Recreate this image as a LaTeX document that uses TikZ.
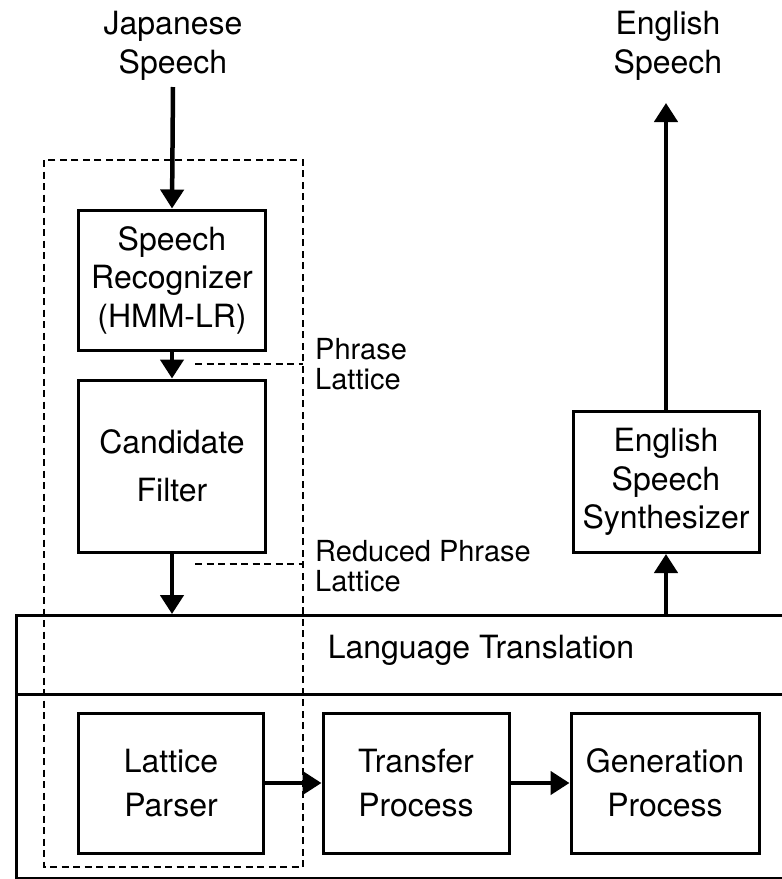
\documentclass[tikz,border=0pt]{standalone}
\usepackage{fontspec}
\setmainfont{TeX Gyre Heros}
\usetikzlibrary{arrows.meta}
\begin{document}
\begin{tikzpicture}[x=1pt,y=-1pt,
  txt/.style={font=\fontsize{32}{38.5}\selectfont, align=center, inner sep=0pt},
  lbl/.style={font=\fontsize{29}{30.5}\selectfont, align=left, inner sep=0pt, anchor=west},
  box/.style={draw, line width=3pt, txt},
  flow/.style={line width=4.5pt, -{Triangle[length=19pt,width=23pt]}},
  dsh/.style={line width=2.8pt, dash pattern=on 7pt off 4.5pt}
]
\useasboundingbox (0,0) rectangle (782,879);
% outer blocks
\node[draw, line width=3pt, minimum width=790pt, minimum height=79pt, anchor=north west, inner sep=0pt] (lt) at (15,614) {};
\node[draw, line width=3pt, minimum width=790pt, minimum height=184pt, anchor=north west, inner sep=0pt] (bot) at (15,693) {};
\node[txt] (lttext) at (481,650) {Language Translation};
% boxes
\node[box, minimum width=187pt, minimum height=140pt] (sr) at (172,280) {Speech\\Recognizer\\(HMM-LR)};
\node[box, minimum width=187pt, minimum height=172pt] (cf) at (172,466) {Candidate\\[9pt]Filter};
\node[box, minimum width=185pt, minimum height=140pt] (lp) at (171,783) {Lattice\\[6pt]Parser};
\node[box, minimum width=186pt, minimum height=140pt] (tp) at (416,783) {Transfer\\[6pt]Process};
\node[box, minimum width=188pt, minimum height=140pt] (gp) at (665,783) {Generation\\[5pt]Process};
\node[box, minimum width=186pt, minimum height=141pt] (ess) at (666,482) {English\\Speech\\Synthesizer};
% top texts
\node[txt] (jsp) at (173,46) {Japanese\\Speech};
\node[txt] (esp) at (668,46) {English\\Speech};
% dashed enclosure
\draw[dsh] (44,160) rectangle (303,867);
\coordinate (pl1) at (195,364);
\coordinate (pl2) at (303,364);
\coordinate (rl1) at (195,564);
\coordinate (rl2) at (303,564);
\draw[dsh] (pl1) -- (pl2);
\draw[dsh] (rl1) -- (rl2);
\node[lbl] (pltext) at (315,364) {Phrase\\Lattice};
\node[lbl] (rltext) at (315,566) {Reduced Phrase\\Lattice};
% connectors
\coordinate (jsbot) at (173,87);
\coordinate (estop) at (666,103);
\draw[flow] (jsbot) -- (sr.north);
\draw[flow] (sr.south) -- (cf.north);
\draw[flow] (cf.south) -- (cf.south |- lt.north);
\draw[flow] (ess.south |- lt.north) -- (ess.south);
\draw[flow] (ess.north) -- (estop);
\draw[flow] (lp.east) -- (tp.west);
\draw[flow] (tp.east) -- (gp.west);
\end{tikzpicture}
\end{document}
